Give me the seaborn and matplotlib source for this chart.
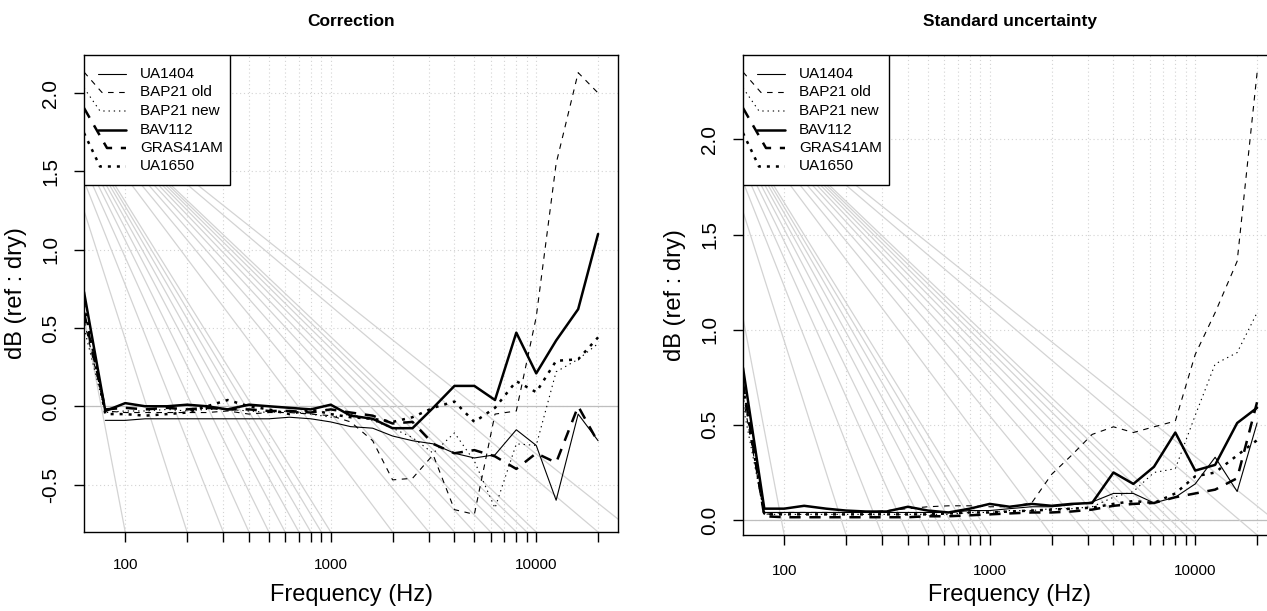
import numpy as np
import pandas as pd
import seaborn as sns
import matplotlib.pyplot as plt
import matplotlib.transforms as mtransforms
from matplotlib.patches import Rectangle

# third-octave band centre frequencies (Hz)
freq = [63, 80, 100, 125, 160, 200, 250, 315, 400, 500, 630, 800, 1000,
        1250, 1600, 2000, 2500, 3150, 4000, 5000, 6300, 8000, 10000,
        12500, 16000, 20000]
nan = np.nan

names = ['UA1404', 'BAP21 old', 'BAP21 new', 'BAV112', 'GRAS41AM', 'UA1650']

# Correction, dB (ref : dry)
corr_ua1404 = [nan, -0.09, -0.09, -0.08, -0.08, -0.08, -0.08, -0.08, -0.08, -0.08, -0.07, -0.08, -0.10,
               -0.13, -0.14, -0.19, -0.22, -0.24, -0.30, -0.33, -0.31, -0.15, -0.25, -0.60, -0.05, -0.22]
corr_bap21_old = [0.55, -0.03, -0.04, -0.04, -0.04, -0.04, -0.04, -0.03, -0.05, -0.04, -0.04, -0.05, -0.06,
                  -0.10, -0.22, -0.47, -0.46, -0.31, -0.66, -0.69, -0.05, -0.03, 0.57, 1.55, 2.13, 2.00]
corr_bap21_new = [0.50, -0.04, -0.03, -0.03, -0.02, -0.03, -0.02, -0.02, -0.03, -0.04, -0.03, -0.05, -0.07,
                  -0.05, -0.09, -0.14, -0.20, -0.30, -0.17, -0.35, -0.65, -0.24, -0.25, 0.22, 0.30, 0.40]
corr_bav112 = [0.73, -0.03, 0.02, 0.00, 0.00, 0.01, 0.00, -0.02, 0.01, 0.00, -0.01, -0.02, 0.01,
               -0.06, -0.08, -0.14, -0.14, -0.01, 0.13, 0.13, 0.04, 0.47, 0.21, 0.42, 0.62, 1.10]
corr_gras41am = [0.60, -0.02, -0.01, -0.02, -0.01, -0.02, -0.01, -0.02, -0.02, -0.03, -0.03, -0.04, -0.02,
                 -0.04, -0.06, -0.11, -0.10, -0.24, -0.30, -0.28, -0.32, -0.40, -0.30, -0.36, 0.00, -0.23]
corr_ua1650 = [0.65, -0.05, -0.05, -0.06, -0.05, -0.04, 0.00, 0.04, 0.00, -0.02, -0.05, -0.02, -0.05,
               -0.07, -0.08, -0.10, -0.07, -0.01, 0.03, -0.10, -0.01, 0.16, 0.09, 0.29, 0.30, 0.44]

# Standard uncertainty, dB (ref : dry)
unc_ua1404 = [nan, 0.04, 0.04, 0.04, 0.04, 0.04, 0.04, 0.04, 0.04, 0.04, 0.04, 0.05, 0.05,
              0.06, 0.07, 0.07, 0.08, 0.095, 0.14, 0.14, 0.09, 0.12, 0.19, 0.33, 0.15, 0.51]
unc_bap21_old = [0.65, 0.03, 0.04, 0.04, 0.04, 0.04, 0.04, 0.05, 0.06, 0.07, 0.075, 0.075, 0.07,
                 0.07, 0.09, 0.24, 0.34, 0.45, 0.49, 0.46, 0.49, 0.52, 0.87, 1.09, 1.36, 2.35]
unc_bap21_new = [0.60, 0.03, 0.03, 0.03, 0.03, 0.03, 0.03, 0.03, 0.03, 0.03, 0.03, 0.04, 0.04,
                 0.05, 0.05, 0.06, 0.06, 0.07, 0.12, 0.15, 0.25, 0.27, 0.55, 0.82, 0.88, 1.09]
unc_bav112 = [0.80, 0.06, 0.06, 0.075, 0.06, 0.05, 0.045, 0.045, 0.07, 0.05, 0.04, 0.06, 0.085,
              0.07, 0.085, 0.075, 0.085, 0.09, 0.25, 0.19, 0.28, 0.46, 0.26, 0.29, 0.51, 0.59]
unc_gras41am = [0.72, 0.02, 0.015, 0.015, 0.015, 0.015, 0.015, 0.015, 0.015, 0.02, 0.02, 0.025, 0.03,
                0.035, 0.04, 0.04, 0.045, 0.055, 0.075, 0.085, 0.09, 0.12, 0.14, 0.16, 0.22, 0.62]
unc_ua1650 = [0.70, 0.03, 0.03, 0.03, 0.03, 0.03, 0.03, 0.03, 0.03, 0.03, 0.035, 0.04, 0.04,
              0.045, 0.05, 0.055, 0.06, 0.065, 0.085, 0.10, 0.09, 0.14, 0.23, 0.25, 0.34, 0.42]

# axis ticks: every 1-9 multiple per decade
xticks = [100, 200, 300, 400, 500, 600, 700, 800, 900, 1000, 2000, 3000, 4000, 5000,
          6000, 7000, 8000, 9000, 10000, 20000]
xticklabels = ['100' if t == 100 else '1000' if t == 1000 else '10000' if t == 10000 else ''
               for t in xticks]
fan_ticks = xticks + [30000]

# line styles (R: lty 1/2/3, lwd 1/2)
styles = {
    'UA1404':    dict(lw=0.8, dashes=None),
    'BAP21 old': dict(lw=0.8, dashes=(5, 5)),
    'BAP21 new': dict(lw=0.8, dashes=(1.2, 3.5)),
    'BAV112':    dict(lw=1.8, dashes=None),
    'GRAS41AM':  dict(lw=1.8, dashes=(4.5, 3.5)),
    'UA1650':    dict(lw=1.8, dashes=(1.2, 2.4)),
}

sns.set_style('white')
plt.rcParams['font.family'] = ['Liberation Sans', 'DejaVu Sans']
plt.rcParams.update({'text.color': 'black', 'axes.labelcolor': 'black',
                     'xtick.color': 'black', 'ytick.color': 'black'})

fig = plt.figure(figsize=(12.67, 6.11), dpi=100)
W, H = 1267, 611
ax1 = fig.add_axes([84 / W, 1 - 532 / H, 534 / W, 477 / H])
ax2 = fig.add_axes([743 / W, 1 - 535 / H, 534 / W, 480 / H])


def panel(ax, series, title, xpad, xlabpad):
    df = pd.DataFrame({'freq': freq})
    for n, v in zip(names, series):
        df[n] = v
    long = df.melt(id_vars='freq', var_name='device', value_name='dB').dropna()

    allv = long['dB'].to_numpy()
    lo, hi = allv.min(), allv.max()
    ylim = (lo - 0.04 * (hi - lo), hi + 0.04 * (hi - lo))
    ax.set_xscale('log')
    ax.set_xlim(63, 25000)
    ax.set_ylim(*ylim)

    # grid
    for t in xticks:
        ax.axvline(t, color='#d3d3d3', lw=0.8, ls=(0, (1, 2.5)), zorder=1)
    yt = [y for y in np.arange(-0.5, 2.51, 0.5) if ylim[0] < y < ylim[1]]
    for y in yt:
        ax.axhline(y, color='#d3d3d3', lw=0.8, ls=(0, (1, 2.5)), zorder=1)
    ax.axhline(0, color='#bebebe', lw=0.9, zorder=1.5)

    # fan of grey lines running down to the ticks
    apex = 36
    for t in fan_ticks:
        ax.plot([t, apex], [ylim[0], ylim[1]], color='#d3d3d3', lw=0.9, zorder=1.5)

    for n in names:
        d = long[long['device'] == n]
        st = styles[n]
        sns.lineplot(data=d, x='freq', y='dB', ax=ax, color='black', lw=st['lw'],
                     sort=False, estimator=None, zorder=3)
        if st['dashes'] is not None:
            ax.lines[-1].set_dashes(st['dashes'])

    ax.set_xticks(xticks)
    ax.set_xticklabels(xticklabels)
    ax.minorticks_off()
    ax.set_yticks(yt)
    ax.set_yticklabels([f'{y:.1f}' for y in yt], rotation=90, va='center')
    ax.tick_params(axis='x', length=7, width=1, pad=xpad, labelsize=11, direction='out',
                   bottom=True)
    ax.tick_params(axis='y', length=7, width=1, pad=10, labelsize=15, direction='out',
                   left=True)
    for s in ax.spines.values():
        s.set_color('black')
        s.set_linewidth(1)
    ax.set_xlabel('Frequency (Hz)', fontsize=17, labelpad=xlabpad)
    ax.set_ylabel('dB (ref : dry)', fontsize=17, labelpad=10)
    ax.set_title(title, fontsize=12.5, fontweight='bold', pad=21)

    # legend drawn R-style, in pixel offsets from the top-left corner
    tr = mtransforms.Affine2D().scale(1, -1) + mtransforms.ScaledTranslation(0, 1, ax.transAxes)
    ax.add_patch(Rectangle((0, 0), 146, 130, transform=tr, facecolor='white',
                           edgecolor='black', lw=1, zorder=5))
    diag = {'BAP21 old': (17, 18), 'BAP21 new': (33, 16),
            'GRAS41AM': (53, 23), 'UA1650': (78, 16)}
    for i, n in enumerate(names):
        y = 19 + 18.5 * i
        st = styles[n]
        xs, ys = [14, 42], [y, y]
        if n in diag:
            y0, x1 = diag[n]
            xs, ys = [0, x1, 42], [y0, y, y]
        ln, = ax.plot(xs, ys, transform=tr, color='black', lw=st['lw'], zorder=6)
        if st['dashes'] is not None:
            ln.set_dashes(st['dashes'])
        ax.text(56, y, n, transform=tr, fontsize=11, va='center', ha='left', zorder=7)


panel(ax1, [corr_ua1404, corr_bap21_old, corr_bap21_new, corr_bav112, corr_gras41am, corr_ua1650],
      'Correction', 12, 8)
panel(ax2, [unc_ua1404, unc_bap21_old, unc_bap21_new, unc_bav112, unc_gras41am, unc_ua1650],
      'Standard uncertainty', 14, 4)

fig.savefig('out.png', dpi=100)
